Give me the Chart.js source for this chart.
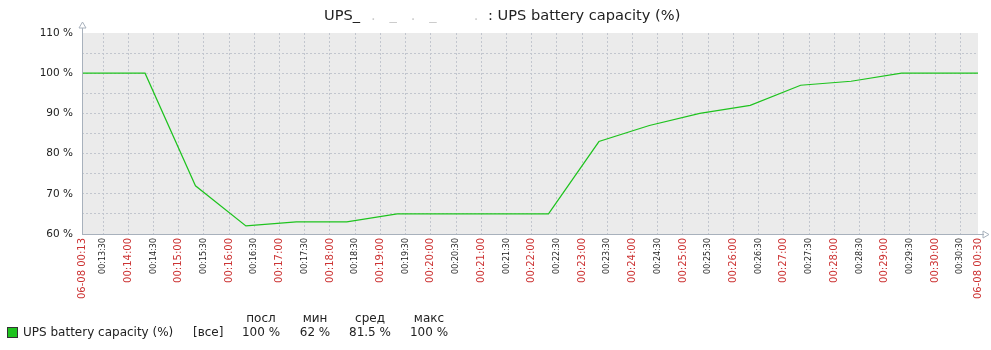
<!DOCTYPE html>
<html>
<head>
<meta charset="utf-8">
<script src="https://cdn.jsdelivr.net/npm/chart.js@4"></script>
<style>
  body { margin: 0; background: #fff; }
  #wrap { width: 991px; height: 350px; }
</style>
</head>
<body>
<div id="wrap"><canvas id="upsChart" width="991" height="350"></canvas></div>
<script>
// data (one sample per minute, 06-08)
const sampleTimes = ["00:12:20", "00:13:20", "00:14:20", "00:15:20", "00:16:20", "00:17:20", "00:18:20",
  "00:19:20", "00:20:20", "00:21:20", "00:22:20", "00:23:20", "00:24:20", "00:25:20", "00:26:20",
  "00:27:20", "00:28:20", "00:29:20", "00:30:20", "00:31:20"];
const capacity = [100, 100, 100, 72, 62, 63, 63, 65, 65, 65, 65, 83, 87, 90, 92, 97, 98, 100, 100, 100];

const rangeStart = "00:13:05";
const rangeEnd = "00:30:51";
const yTicks = [60, 65, 70, 75, 80, 85, 90, 95, 100, 105, 110];

const legendHeaders = ["посл", "мин", "сред", "макс"];
const legendValues = ["100 %", "62 %", "81.5 %", "100 %"];

const FONT = "DejaVu Sans";
const lineColor = "#1ec31e";
const axisColor = "#a8b1bc";
const gridColor = "#c2c6ce";
const redText = "#cc3333";

function toSec(t) {
  const p = t.split(":").map(Number);
  return p[0] * 3600 + p[1] * 60 + p[2];
}
function pad(n) { return String(n).padStart(2, "0"); }

const xMin = toSec(rangeStart);
const xMax = toSec(rangeEnd);

const points = sampleTimes.map((t, i) => ({ x: toSec(t), y: capacity[i] }));

// ticks every 30 s plus both ends
const xTicks = [xMin];
for (let s = Math.ceil(xMin / 30) * 30; s < xMax; s += 30) xTicks.push(s);
xTicks.push(xMax);

function isEnd(v) { return v === xMin || v === xMax; }
function isRed(v) { return isEnd(v) || v % 60 === 0; }
function tickVal(c) { return c && c.tick ? c.tick.value : null; }

const zabbixLook = {
  id: "zabbixLook",
  beforeDraw(chart) {
    const { ctx, chartArea: a } = chart;
    ctx.save();
    ctx.fillStyle = "#ebebeb";
    ctx.fillRect(a.left, a.top, a.right - a.left, a.bottom - a.top);
    ctx.restore();
  },
  afterDraw(chart) {
    const { ctx, chartArea: a } = chart;
    ctx.save();
    // axes with arrows
    ctx.strokeStyle = axisColor;
    ctx.lineWidth = 1;
    ctx.beginPath();
    ctx.moveTo(a.left + 0.5, a.bottom);
    ctx.lineTo(a.left + 0.5, a.top - 5);
    ctx.moveTo(a.left, a.bottom + 0.5);
    ctx.lineTo(a.right + 6, a.bottom + 0.5);
    ctx.stroke();
    ctx.beginPath();
    ctx.moveTo(a.left + 0.5, a.top - 11);
    ctx.lineTo(a.left - 3, a.top - 5);
    ctx.lineTo(a.left + 4, a.top - 5);
    ctx.closePath();
    ctx.stroke();
    ctx.beginPath();
    ctx.moveTo(a.right + 11, a.bottom + 0.5);
    ctx.lineTo(a.right + 5, a.bottom - 3);
    ctx.lineTo(a.right + 5, a.bottom + 4);
    ctx.closePath();
    ctx.stroke();

    // title
    ctx.fillStyle = "#222";
    ctx.font = "14.6px '" + FONT + "'";
    ctx.textAlign = "left";
    ctx.textBaseline = "middle";
    ctx.fillText("UPS_", 324, 16);
    ctx.fillStyle = "#ccc";
    ctx.fillText("   .   _   .   _        .", 357, 16);
    ctx.fillStyle = "#222";
    ctx.fillText(": UPS battery capacity (%)", 488, 16);

    // legend
    ctx.fillStyle = lineColor;
    ctx.fillRect(7, 327, 10, 10);
    ctx.strokeStyle = "#333";
    ctx.strokeRect(7.5, 327.5, 10, 10);
    ctx.fillStyle = "#222";
    ctx.font = "12px '" + FONT + "'";
    ctx.fillText("UPS battery capacity (%)", 23, 333);
    ctx.fillText("[все]", 193, 333);
    ctx.textAlign = "center";
    const cols = [261, 315, 370, 429];
    cols.forEach((cx, i) => {
      ctx.fillText(legendHeaders[i], cx, 319);
      ctx.fillText(legendValues[i], cx, 333);
    });
    ctx.restore();
  }
};

new Chart(document.getElementById("upsChart"), {
  type: "line",
  data: {
    datasets: [{
      label: "UPS battery capacity (%)",
      data: points,
      borderColor: lineColor,
      borderWidth: 1.2,
      pointRadius: 0,
      tension: 0,
      fill: false
    }]
  },
  options: {
    responsive: false,
    animation: false,
    layout: { padding: { top: 33, right: 13, left: 0, bottom: 0 } },
    plugins: {
      legend: { display: false },
      title: { display: false },
      tooltip: { enabled: false }
    },
    scales: {
      x: {
        type: "linear",
        min: xMin,
        max: xMax,
        afterBuildTicks: (scale) => { scale.ticks = xTicks.map(v => ({ value: v })); },
        afterFit: (scale) => {
          scale.height = 116;
          scale.paddingLeft = 0;
          scale.paddingRight = 0;
        },
        border: { display: false, dash: [2, 2] },
        grid: {
          color: (c) => isEnd(tickVal(c)) ? "rgba(0,0,0,0)" : gridColor,
          drawTicks: false
        },
        ticks: {
          autoSkip: false,
          maxRotation: 90,
          minRotation: 90,
          padding: 4,
          color: (c) => isRed(tickVal(c)) ? redText : "#222",
          font: (c) => ({ family: FONT, size: isRed(tickVal(c)) ? 10 : 8 }),
          callback: (v) => {
            if (v === xMin) return "06-08 00:13";
            if (v === xMax) return "06-08 00:30";
            const m = Math.floor((v % 3600) / 60);
            const s = v % 60;
            return pad(Math.floor(v / 3600)) + ":" + pad(m) + ":" + pad(s);
          }
        }
      },
      y: {
        min: 60,
        max: 110,
        afterBuildTicks: (scale) => { scale.ticks = yTicks.map(v => ({ value: v })); },
        afterFit: (scale) => {
          scale.width = 82;
          scale.paddingTop = 0;
          scale.paddingBottom = 0;
        },
        border: { display: false, dash: [2, 2] },
        grid: {
          color: (c) => { const v = tickVal(c); return (v === 60 || v === 110) ? "rgba(0,0,0,0)" : gridColor; },
          drawTicks: false
        },
        ticks: {
          padding: 9,
          color: "#222",
          font: { family: FONT, size: 10.5 },
          callback: (v) => v % 10 === 0 ? v + " %" : ""
        }
      }
    }
  },
  plugins: [zabbixLook]
});
</script>
</body>
</html>
